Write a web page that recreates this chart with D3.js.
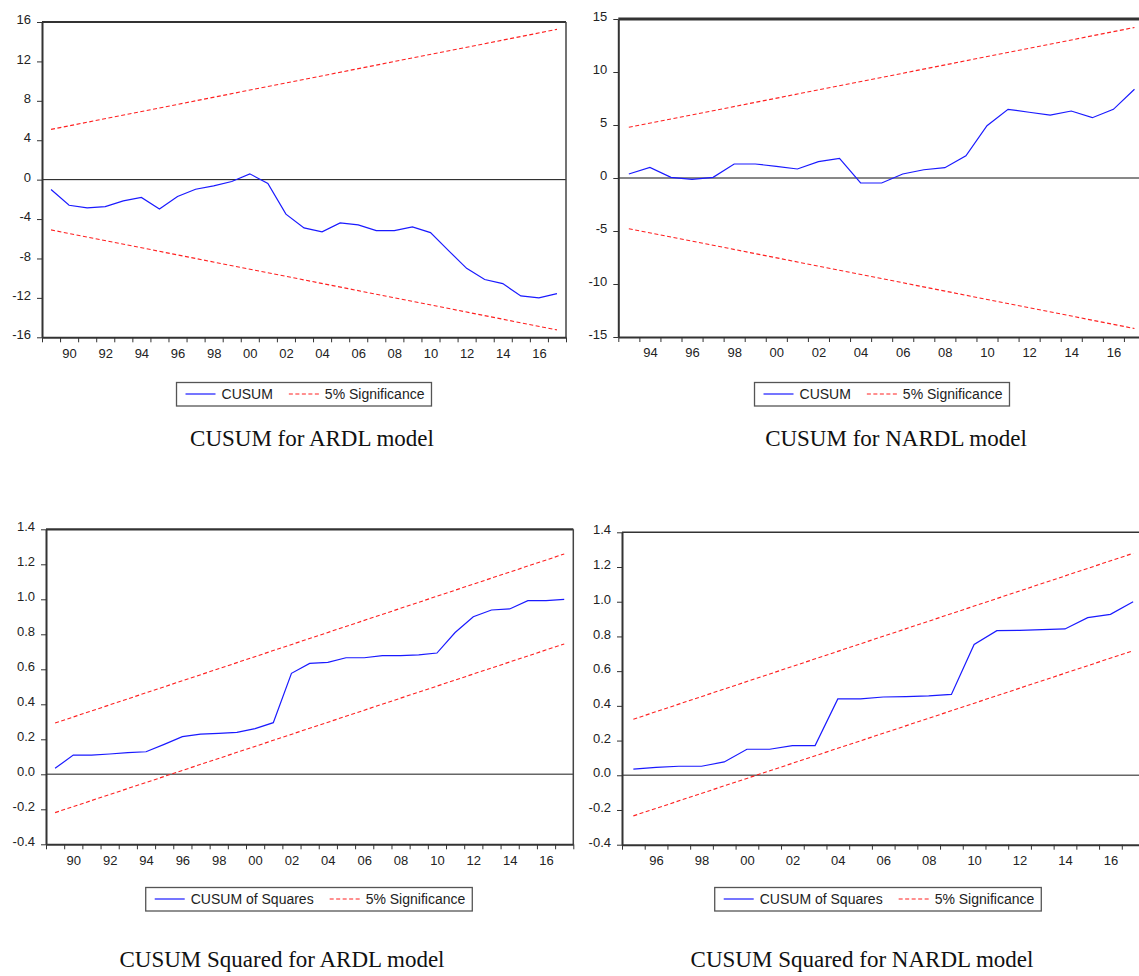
<!DOCTYPE html>
<html>
<head>
<meta charset="utf-8">
<title>CUSUM stability tests</title>
<script src="https://cdn.jsdelivr.net/npm/d3@7"></script>
<style>
  body { margin: 0; background: #ffffff; }
  svg text { font-family: "Liberation Sans", Arial, sans-serif; fill: #222; }
  .tick text { font-size: 13px; }
  .legend text { font-size: 14px; }
  .caption { font-family: "Liberation Serif", "DejaVu Serif", serif; font-size: 23px; fill: #111; }
</style>
</head>
<body>
<svg id="fig" width="1139" height="976"></svg>
<script>

// ---- CUSUM, ARDL model ----
var ardlYears = [1989,1990,1991,1992,1993,1994,1995,1996,1997,1998,1999,2000,2001,2002,2003,
                 2004,2005,2006,2007,2008,2009,2010,2011,2012,2013,2014,2015,2016,2017];
var ardlCusum = [-1.0,-2.6,-2.87,-2.73,-2.15,-1.81,-2.97,-1.71,-0.97,-0.63,-0.19,0.59,-0.39,-3.5,-4.9,
                 -5.3,-4.39,-4.59,-5.17,-5.17,-4.8,-5.37,-7.2,-9.0,-10.14,-10.55,-11.8,-12.0,-11.57];
var ardlCusumUpper = [5.1, 15.25];
var ardlCusumLower = [-5.1, -15.25];

// ---- CUSUM, NARDL model ----
var nardlYears = [1993,1994,1995,1996,1997,1998,1999,2000,2001,2002,2003,2004,2005,
                  2006,2007,2008,2009,2010,2011,2012,2013,2014,2015,2016,2017];
var nardlCusum = [0.38,1.0,0.06,-0.13,0.06,1.32,1.32,1.1,0.85,1.54,1.86,-0.47,-0.47,
                  0.38,0.78,0.97,2.1,4.93,6.48,6.2,5.94,6.32,5.69,6.48,8.37];
var nardlCusumUpper = [4.78, 14.2];
var nardlCusumLower = [-4.78, -14.2];

// ---- CUSUM of squares, ARDL model ----
var ardlCusumSq = [0.034,0.11,0.11,0.116,0.124,0.129,0.171,0.215,0.23,0.234,0.24,0.261,0.295,0.577,0.634,
                   0.64,0.666,0.666,0.678,0.678,0.682,0.693,0.81,0.90,0.939,0.945,0.992,0.992,1.0];
var ardlSqUpper = [0.293, 1.259];
var ardlSqLower = [-0.219, 0.745];

// ---- CUSUM of squares, NARDL model ----
var nardlSqYears = [1995,1996,1997,1998,1999,2000,2001,2002,2003,2004,2005,2006,
                    2007,2008,2009,2010,2011,2012,2013,2014,2015,2016,2017];
var nardlCusumSq = [0.036,0.046,0.052,0.052,0.077,0.15,0.15,0.171,0.171,0.44,0.44,0.451,
                    0.453,0.457,0.466,0.754,0.833,0.835,0.839,0.843,0.908,0.927,1.0];
var nardlSqUpper = [0.323, 1.279];
var nardlSqLower = [-0.234, 0.718];

// tick labels
var cusumTicksA = [16,12,8,4,0,-4,-8,-12,-16];
var cusumTicksN = [15,10,5,0,-5,-10,-15];
var sqTicks = [1.4,1.2,1.0,0.8,0.6,0.4,0.2,0.0,-0.2,-0.4];
var labelYearsA = [1990,1992,1994,1996,1998,2000,2002,2004,2006,2008,2010,2012,2014,2016];
var labelYearsN = [1994,1996,1998,2000,2002,2004,2006,2008,2010,2012,2014,2016];
var labelYearsNSq = [1996,1998,2000,2002,2004,2006,2008,2010,2012,2014,2016];

var svg = d3.select("#fig");

function yearLabel(d) { return String(d).slice(2); }

function drawPanel(p) {
  var first = p.years[0], last = p.years[p.years.length - 1];
  var x = d3.scaleLinear().domain([first - 0.5, last + 0.5]).range(p.xRange);
  var y = d3.scaleLinear().domain(p.yDomain).range(p.yRange);
  var x0 = p.xRange[0], x1 = p.xRange[1], yTop = p.yRange[1], yBot = p.yRange[0];
  var g = svg.append("g");

  // zero line
  g.append("line")
    .attr("x1", x0).attr("x2", x1).attr("y1", y(0)).attr("y2", y(0))
    .attr("stroke", p.zeroColor).attr("stroke-width", p.zeroWidth);

  var line = d3.line().x(function(d) { return x(d[0]); }).y(function(d) { return y(d[1]); });

  [p.upper, p.lower].forEach(function(b) {
    g.append("path")
      .datum([[first, b[0]], [last, b[1]]])
      .attr("d", line)
      .attr("fill", "none")
      .attr("stroke", "#ff2020")
      .attr("stroke-width", 1.1)
      .attr("stroke-dasharray", "4,2.5");
  });

  g.append("path")
    .datum(p.years.map(function(yr, i) { return [yr, p.values[i]]; }))
    .attr("d", line)
    .attr("fill", "none")
    .attr("stroke", "#1a1aff")
    .attr("stroke-width", 1.2);

  // frame top and right
  g.append("line").attr("x1", x0).attr("x2", x1).attr("y1", yTop).attr("y2", yTop)
    .attr("stroke", "#333").attr("stroke-width", p.topWidth);
  g.append("line").attr("x1", x1).attr("x2", x1).attr("y1", yTop).attr("y2", yBot)
    .attr("stroke", "#444").attr("stroke-width", 1.5);

  // y axis
  var ya = g.append("g")
    .attr("transform", "translate(" + x0 + ",0)")
    .call(d3.axisLeft(y).tickValues(p.yTicks).tickSize(5).tickSizeOuter(0).tickPadding(6)
      .tickFormat(p.yFormat));
  ya.selectAll("text").attr("y", -2.5).attr("fill", "#222");

  // x axis: ticks at year boundaries
  var bounds = p.years.map(function(v) { return v - 0.5; }).concat([last + 0.5]);
  g.append("g")
    .attr("transform", "translate(0," + yBot + ")")
    .call(d3.axisBottom(x).tickValues(bounds).tickSize(5).tickSizeOuter(0).tickFormat(""));
  g.append("g")
    .attr("transform", "translate(0," + yBot + ")")
    .call(d3.axisBottom(x).tickValues(p.labelYears).tickSize(0).tickPadding(11).tickFormat(yearLabel))
    .call(function(s) { s.select(".domain").remove(); });

  g.selectAll(".domain").attr("stroke", "#333").attr("stroke-width", 2);
  g.selectAll(".tick line").attr("stroke", "#333");

  drawLegend(p.legendCx, p.legendCy, p.legendLabel);

  svg.append("text").attr("class", "caption")
    .attr("x", p.captionX).attr("y", p.captionY)
    .attr("text-anchor", "middle")
    .text(p.caption);
}

function drawLegend(cx, cy, label) {
  var lg = svg.append("g").attr("class", "legend");
  var pos = 9;
  var box = lg.append("rect");
  lg.append("line").attr("x1", pos).attr("x2", pos + 30).attr("y1", 0).attr("y2", 0)
    .attr("stroke", "#1a1aff").attr("stroke-width", 1.2);
  pos += 36;
  var t1 = lg.append("text").attr("x", pos).attr("y", 5).text(label);
  pos += t1.node().getComputedTextLength() + 16;
  lg.append("line").attr("x1", pos).attr("x2", pos + 30).attr("y1", 0).attr("y2", 0)
    .attr("stroke", "#ff2020").attr("stroke-width", 1.1).attr("stroke-dasharray", "4,2.5");
  pos += 36;
  var t2 = lg.append("text").attr("x", pos).attr("y", 5).text("5% Significance");
  pos += t2.node().getComputedTextLength() + 7;
  box.attr("x", 0).attr("y", -11.5).attr("width", pos).attr("height", 23.5)
    .attr("fill", "#fff").attr("stroke", "#555").attr("stroke-width", 1.3);
  lg.attr("transform", "translate(" + (cx - pos / 2) + "," + cy + ")");
}

var fmtInt = function(d) { return String(d); };
var fmtDec = function(d) { return d.toFixed(1); };

drawPanel({
  years: ardlYears, values: ardlCusum, upper: ardlCusumUpper, lower: ardlCusumLower,
  xRange: [42, 566], yDomain: [-16, 16], yRange: [337.3, 22],
  yTicks: cusumTicksA, yFormat: fmtInt, labelYears: labelYearsA,
  zeroColor: "#111", zeroWidth: 1, topWidth: 2.2,
  legendCx: 304, legendCy: 394, legendLabel: "CUSUM",
  caption: "CUSUM for ARDL model", captionX: 312, captionY: 446
});

drawPanel({
  years: nardlYears, values: nardlCusum, upper: nardlCusumUpper, lower: nardlCusumLower,
  xRange: [618.3, 1145], yDomain: [-15, 15], yRange: [337, 19],
  yTicks: cusumTicksN, yFormat: fmtInt, labelYears: labelYearsN,
  zeroColor: "#111", zeroWidth: 1, topWidth: 3,
  legendCx: 882, legendCy: 394, legendLabel: "CUSUM",
  caption: "CUSUM for NARDL model", captionX: 896, captionY: 446
});

drawPanel({
  years: ardlYears, values: ardlCusumSq, upper: ardlSqUpper, lower: ardlSqLower,
  xRange: [46, 573.3], yDomain: [-0.4, 1.4], yRange: [844.3, 529.3],
  yTicks: sqTicks, yFormat: fmtDec, labelYears: labelYearsA,
  zeroColor: "#666", zeroWidth: 1.6, topWidth: 2.2,
  legendCx: 309, legendCy: 899, legendLabel: "CUSUM of Squares",
  caption: "CUSUM Squared for ARDL model", captionX: 282, captionY: 967
});

drawPanel({
  years: nardlSqYears, values: nardlCusumSq, upper: nardlSqUpper, lower: nardlSqLower,
  xRange: [622, 1144.5], yDomain: [-0.4, 1.4], yRange: [844.7, 532.3],
  yTicks: sqTicks, yFormat: fmtDec, labelYears: labelYearsNSq,
  zeroColor: "#666", zeroWidth: 1.6, topWidth: 1.6,
  legendCx: 878, legendCy: 899, legendLabel: "CUSUM of Squares",
  caption: "CUSUM Squared for NARDL model", captionX: 862, captionY: 967
});

</script>
</body>
</html>
